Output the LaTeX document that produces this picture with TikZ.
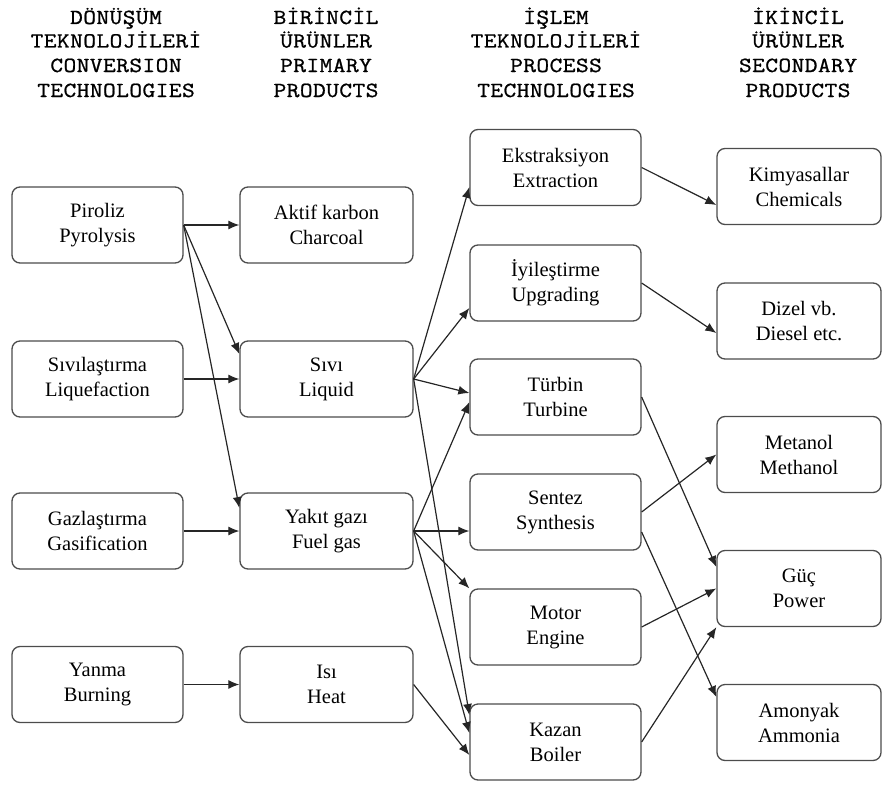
\documentclass[tikz,border=0pt]{standalone}
\usepackage{fontspec}
\setmainfont{Liberation Serif}
\newfontfamily\hdrfont[FakeStretch=1.15,FakeBold=1,LetterSpace=2]{Latin Modern Mono}
\usetikzlibrary{arrows.meta}
\begin{document}
\begin{tikzpicture}[x=1pt,y=-1pt,
  box/.style={draw=black!70, line width=1.3pt, rounded corners=8pt,
    minimum height=76pt, inner sep=0pt, align=center,
    font=\fontsize{20.5}{25}\selectfont},
  wA/.style={box, minimum width=171pt},
  wB/.style={box, minimum width=173pt},
  wD/.style={box, minimum width=164pt},
  hdr/.style={anchor=base, inner sep=0pt, font=\hdrfont\fontsize{21.5}{24}\selectfont},
  arr/.style={draw=black!85, line width=1.2pt, -{Latex[length=11pt,width=9pt]}}]
\useasboundingbox (0,0) rectangle (883,784);
% headers
\node[hdr] (h1a) at (116,24) {DÖNÜŞÜM};
\node[hdr] (h1b) at (116,47.5) {TEKNOLOJİLERİ};
\node[hdr] (h1c) at (116,72) {CONVERSION};
\node[hdr] (h1d) at (116,97) {TECHNOLOGIES};
\node[hdr] (h2a) at (326,24) {BİRİNCİL};
\node[hdr] (h2b) at (326,47.5) {ÜRÜNLER};
\node[hdr] (h2c) at (326,72) {PRIMARY};
\node[hdr] (h2d) at (326,97) {PRODUCTS};
\node[hdr] (h3a) at (556,24) {İŞLEM};
\node[hdr] (h3b) at (556,47.5) {TEKNOLOJİLERİ};
\node[hdr] (h3c) at (556,72) {PROCESS};
\node[hdr] (h3d) at (556,97) {TECHNOLOGIES};
\node[hdr] (h4a) at (798,24) {İKİNCİL};
\node[hdr] (h4b) at (798,47.5) {ÜRÜNLER};
\node[hdr] (h4c) at (798,72) {SECONDARY};
\node[hdr] (h4d) at (798,97) {PRODUCTS};
% column 1
\node[wA] (pyr)  at (97.5,225)   {Piroliz\\Pyrolysis};
\node[wA] (liqf) at (97.5,379)   {Sıvılaştırma\\Liquefaction};
\node[wA] (gas)  at (97.5,531)   {Gazlaştırma\\Gasification};
\node[wA] (burn) at (97.5,684.5) {Yanma\\Burning};
% column 2
\node[wB] (char)   at (326.5,225)   {Aktif karbon\\Charcoal};
\node[wB] (liquid) at (326.5,379)   {Sıvı\\Liquid};
\node[wB] (fuel)   at (326.5,531)   {Yakıt gazı\\Fuel gas};
\node[wB] (heat)   at (326.5,684.5) {Isı\\Heat};
% column 3
\node[wA] (extr)   at (555.5,167.5) {Ekstraksiyon\\Extraction};
\node[wA] (upgr)   at (555.5,283)   {İyileştirme\\Upgrading};
\node[wA] (turb)   at (555.5,397)   {Türbin\\Turbine};
\node[wA] (synth)  at (555.5,512)   {Sentez\\Synthesis};
\node[wA] (engine) at (555.5,627)   {Motor\\Engine};
\node[wA] (boiler) at (555.5,742)   {Kazan\\Boiler};
% column 4
\node[wD] (chem)   at (799,186.5) {Kimyasallar\\Chemicals};
\node[wD] (diesel) at (799,321)   {Dizel vb.\\Diesel etc.};
\node[wD] (meth)   at (799,454.5) {Metanol\\Methanol};
\node[wD] (power)  at (799,588.5) {Güç\\Power};
\node[wD] (ammon)  at (799,722.5) {Amonyak\\Ammonia};
% connectors col1 -> col2
\draw[arr] (pyr.east) -- (char.west);
\draw[arr] (pyr.east) -- ([yshift=25pt]liquid.west);
\draw[arr] (pyr.east) -- ([yshift=23pt]fuel.west);
\draw[arr] (liqf.east) -- (liquid.west);
\draw[arr] (gas.east) -- (fuel.west);
\draw[arr] (burn.east) -- (heat.west);
% col2 -> col3
\draw[arr] (liquid.east) -- ([yshift=-19.5pt]extr.west);
\draw[arr] (liquid.east) -- ([yshift=-25pt]upgr.west);
\draw[arr] (liquid.east) -- ([yshift=4pt]turb.west);
\draw[arr] (liquid.east) -- ([yshift=27pt]boiler.west);
\draw[arr] (fuel.east) -- ([yshift=-5pt]turb.west);
\draw[arr] (fuel.east) -- ([yshift=-19pt]synth.west);
\draw[arr] (fuel.east) -- (engine.north west);
\draw[arr] (fuel.east) -- ([yshift=9pt]boiler.west);
\draw[arr] (heat.east) -- ([yshift=-13pt]boiler.west);
% col3 -> col4
\draw[arr] (extr.east) -- ([yshift=-18.5pt]chem.west);
\draw[arr] (upgr.east) -- ([yshift=-12pt]diesel.west);
\draw[arr] (turb.east) -- ([yshift=21.5pt]power.west);
\draw[arr] (synth.east) -- (meth.west);
\draw[arr] ([yshift=-20pt]synth.east) -- ([yshift=25.5pt]ammon.west);
\draw[arr] (engine.east) -- (power.west);
\draw[arr] (boiler.east) -- (power.south west);
\end{tikzpicture}
\end{document}
